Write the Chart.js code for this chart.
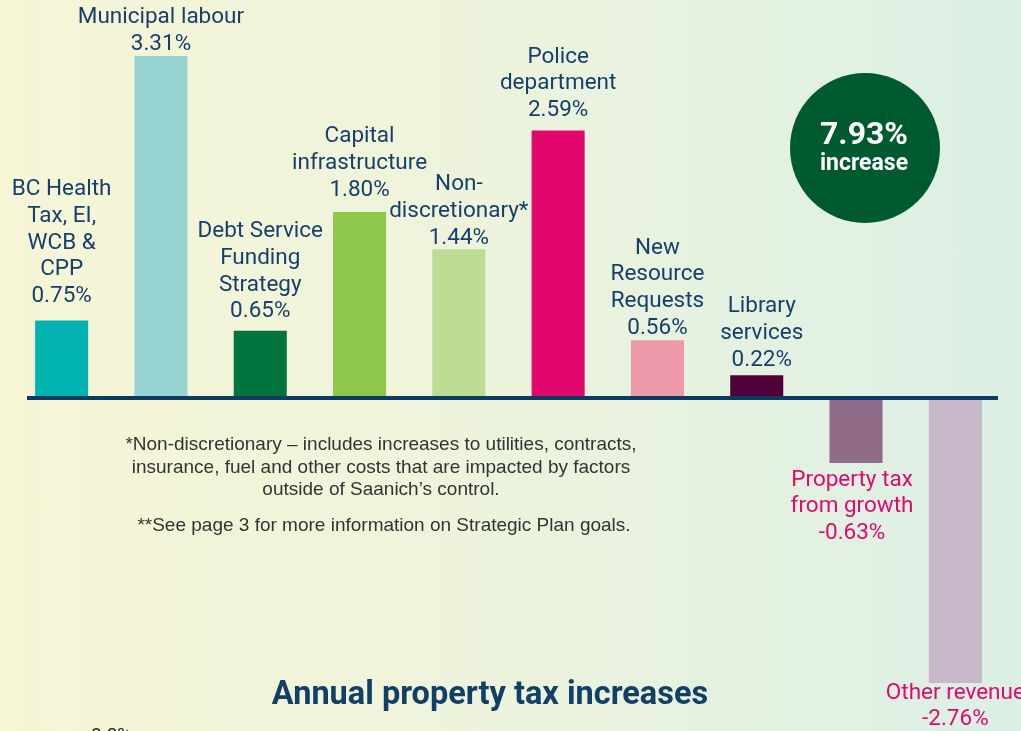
<!DOCTYPE html>
<html>
<head>
<meta charset="utf-8">
<script src="https://cdn.jsdelivr.net/npm/chart.js@4.4.1/dist/chart.umd.min.js"></script>
<style>
  html, body { margin: 0; padding: 0; overflow: hidden; }
  #wrap {
    width: 1021px; height: 731px; position: relative;
    background: linear-gradient(to right, #f6f5d6 0%, #eef4dc 45%, #dbefe5 100%);
  }
</style>
</head>
<body>
<div id="wrap"><canvas id="chart" width="1021" height="731"></canvas></div>
<script>
// Categorias e valores (% de aumento do imposto)
const categories = [
    'BC Health Tax, EI, WCB & CPP', 'Municipal labour', 'Debt Service Funding Strategy',
    'Capital infrastructure', 'Non-discretionary*', 'Police department',
    'New Resource Requests', 'Library services', 'Property tax from growth', 'Other revenue'
];
const values = [0.75, 3.31, 0.65, 1.80, 1.44, 2.59, 0.56, 0.22, -0.63, -2.76];
const labelLines = [
    ['BC Health', 'Tax, EI,', 'WCB &', 'CPP'],
    ['Municipal labour'],
    ['Debt Service', 'Funding', 'Strategy'],
    ['Capital', 'infrastructure'],
    ['Non-', 'discretionary*'],
    ['Police', 'department'],
    ['New', 'Resource', 'Requests'],
    ['Library', 'services'],
    ['Property tax', 'from growth'],
    ['Other revenue']
];
const barColors = ['#00b3b0', '#98d4d2', '#00743d', '#8fc74b', '#bddc94',
                   '#e2076c', '#ee99ab', '#4f0038', '#916c89', '#c9b8ca'];
const totalIncrease = '7.93%';
const footnotes = [
    '*Non-discretionary \u2013 includes increases to utilities, contracts,',
    'insurance, fuel and other costs that are impacted by factors',
    'outside of Saanich\u2019s control.'
];
const footnote2 = '**See page 3 for more information on Strategic Plan goals.';
const title = 'Annual property tax increases';

// Ajustes de posição dos rótulos (pixels)
const labelGap = [24, 12, 19, 22, 11, 20, 12, 15, 17, 10];
const labelDx = [0, 0, 0, 0, 0, 0, 0, 5, -4, 0];

const navy = '#173f6b';
const pink = '#e2086d';
const lineH = 26.7;

const overlay = {
    id: 'overlay',
    afterDatasetsDraw(chart) {
        const { ctx, scales } = chart;
        const meta = chart.getDatasetMeta(0);
        const y0 = scales.y.getPixelForValue(0);

        // Linha de base
        ctx.save();
        ctx.fillStyle = '#0b3a62';
        ctx.fillRect(27, y0 - 2, 971, 4);

        // Rótulos das barras
        ctx.font = '22.5px Roboto';
        ctx.textAlign = 'center';
        ctx.textBaseline = 'middle';
        meta.data.forEach((bar, i) => {
            const lines = labelLines[i].concat([values[i].toFixed(2) + '%']);
            const x = bar.x + labelDx[i];
            if (values[i] >= 0) {
                ctx.fillStyle = navy;
                const last = bar.y - labelGap[i];
                lines.forEach((t, k) => {
                    ctx.fillText(t, x, last - (lines.length - 1 - k) * lineH);
                });
            } else {
                ctx.fillStyle = pink;
                const first = bar.y + labelGap[i];
                lines.forEach((t, k) => {
                    ctx.fillText(t, x, first + k * lineH);
                });
            }
        });

        // Círculo do total
        ctx.fillStyle = '#005a30';
        ctx.beginPath();
        ctx.arc(865, 148, 75, 0, Math.PI * 2);
        ctx.fill();
        ctx.fillStyle = '#ffffff';
        ctx.font = 'bold 32px Roboto';
        ctx.fillText(totalIncrease, 864, 136);
        ctx.font = 'bold 23px Roboto';
        ctx.fillText('increase', 864, 164);

        // Notas de rodapé
        ctx.fillStyle = '#333333';
        ctx.font = '19px "Liberation Sans"';
        footnotes.forEach((t, k) => ctx.fillText(t, 381, 445 + k * 22.5));
        ctx.fillText(footnote2, 384, 526);

        // Título
        ctx.fillStyle = '#123f66';
        ctx.font = 'bold 32.5px Roboto';
        ctx.fillText(title, 490, 696);

        // Início do próximo gráfico (cortado)
        ctx.fillStyle = '#222222';
        ctx.font = '19px Roboto';
        ctx.textAlign = 'left';
        ctx.fillText('8.0%', 91, 736);
        ctx.restore();
    }
};

new Chart(document.getElementById('chart'), {
    type: 'bar',
    data: {
        labels: categories,
        datasets: [{
            data: values,
            backgroundColor: barColors,
            borderWidth: 0,
            barPercentage: 0.534,
            categoryPercentage: 1
        }]
    },
    options: {
        responsive: false,
        animation: false,
        layout: { padding: { left: 12, right: 16, top: 0, bottom: 0 } },
        scales: {
            x: { display: false },
            y: { display: false, min: -3.224, max: 3.853 }
        },
        plugins: {
            legend: { display: false },
            tooltip: { enabled: false }
        }
    },
    plugins: [overlay]
});
</script>
</body>
</html>
